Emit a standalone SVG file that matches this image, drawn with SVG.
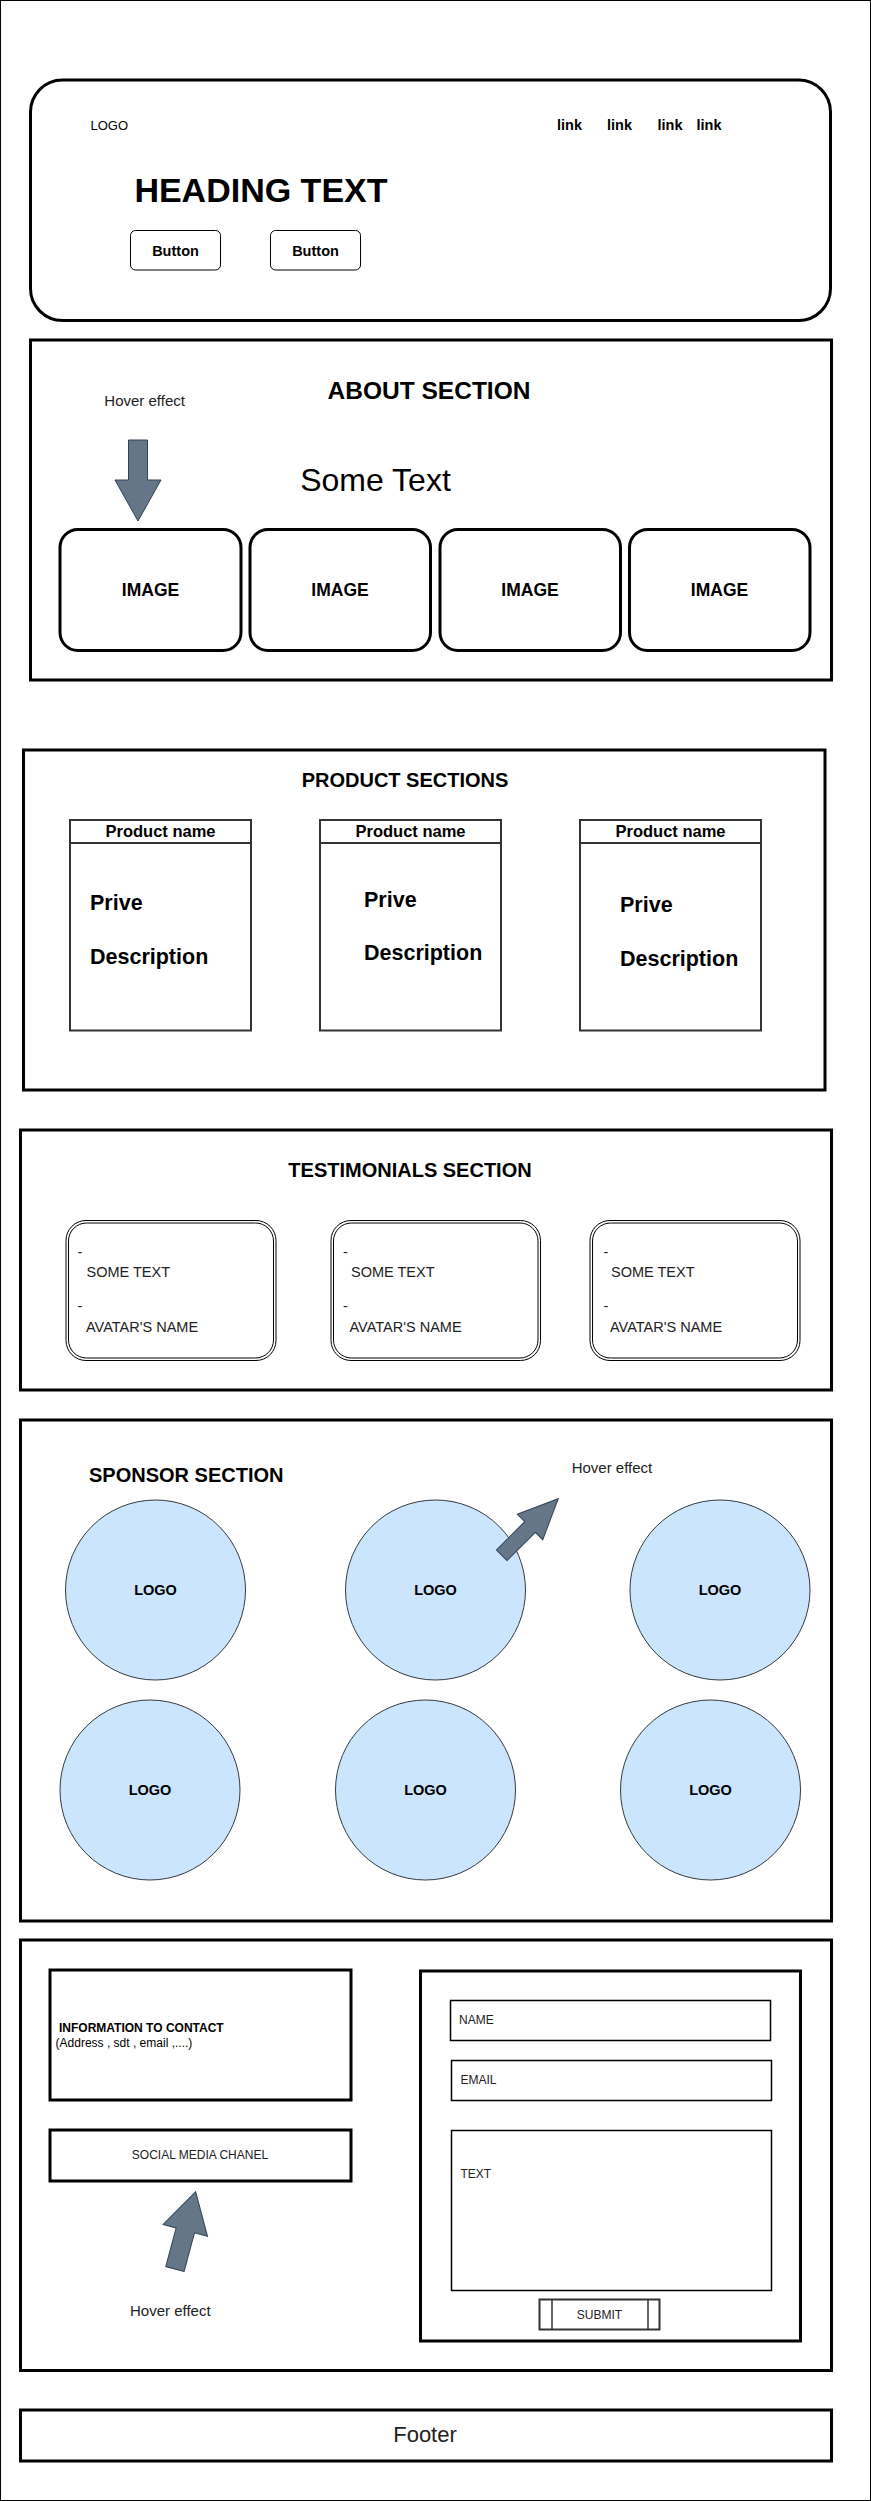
<svg xmlns="http://www.w3.org/2000/svg" width="871" height="2501" viewBox="0 0 871 2501">
<style>
text{font-family:"Liberation Sans",Arial,sans-serif;fill:#000}
.b{font-weight:bold}
.sec{fill:#fff;stroke:#000;stroke-width:3}
.img{fill:#fff;stroke:#000;stroke-width:3}
.prod{fill:#fff;stroke:#333;stroke-width:2}
.tst{fill:none;stroke:#000;stroke-width:1}
.logo{fill:#cce5ff;stroke:#36393d;stroke-width:1}
.arr{fill:#647687;stroke:#314354;stroke-width:1}
.inp{fill:#fff;stroke:#000;stroke-width:1.5}
.t{fill:#222}
.c{text-anchor:middle}
</style>
<rect x="0.5" y="0.5" width="870" height="2500" fill="#fff" stroke="#000" stroke-width="1"/>

<g id="header">
<rect class="sec" x="30.5" y="80" width="800" height="240.5" rx="32" ry="32"/>
<text x="90.5" y="130" font-size="13">LOGO</text>
<text class="b" x="557" y="130" font-size="14.5">link</text>
<text class="b" x="607" y="130" font-size="14.5" fill="#222">link</text>
<text class="b" x="657.5" y="130" font-size="14.5" fill="#222">link</text>
<text class="b" x="696.5" y="130" font-size="14.5" fill="#222">link</text>
<text class="b" x="134.4" y="201.5" font-size="34">HEADING TEXT</text>
<rect x="130.5" y="230.5" width="90" height="39.5" rx="5" fill="#fff" stroke="#000" stroke-width="1"/>
<text class="b c" x="175.5" y="255.5" font-size="14.5">Button</text>
<rect x="270.5" y="230.5" width="90" height="39.5" rx="5" fill="#fff" stroke="#000" stroke-width="1"/>
<text class="b c" x="315.5" y="255.5" font-size="14.5">Button</text>
</g>

<g id="about">
<rect class="sec" x="30.5" y="340" width="801" height="340"/>
<text class="b c" x="429" y="399" font-size="24.5">ABOUT SECTION</text>
<text class="t" x="104.3" y="406" font-size="15">Hover effect</text>
<text class="c" x="375.5" y="491" font-size="32">Some Text</text>
<g id="img1"><rect class="img" x="60" y="529.5" width="181" height="121" rx="18"/><text class="b c" x="150.5" y="596" font-size="17.5">IMAGE</text></g>
<g id="img2"><rect class="img" x="250" y="529.5" width="180.5" height="121" rx="18"/><text class="b c" x="340" y="596" font-size="17.5">IMAGE</text></g>
<g id="img3"><rect class="img" x="440" y="529.5" width="180.5" height="121" rx="18"/><text class="b c" x="530" y="596" font-size="17.5">IMAGE</text></g>
<g id="img4"><rect class="img" x="629.5" y="529.5" width="180.5" height="121" rx="18"/><text class="b c" x="719.5" y="596" font-size="17.5">IMAGE</text></g>
</g>

<g id="products">
<rect class="sec" x="23.5" y="750" width="801.5" height="340"/>
<text class="b c" x="405" y="787" font-size="20">PRODUCT SECTIONS</text>
<g id="prod1">
<rect class="prod" x="70" y="820" width="181" height="210.5"/>
<line class="prod" x1="70" y1="843" x2="251" y2="843"/>
<text class="b c" x="160.5" y="837" font-size="16.5">Product name</text>
<text class="b" x="90" y="910" font-size="21.5">Prive</text>
<text class="b" x="90" y="963.5" font-size="21.5">Description</text>
</g>
<g id="prod2">
<rect class="prod" x="320" y="820" width="181" height="210.5"/>
<line class="prod" x1="320" y1="843" x2="501" y2="843"/>
<text class="b c" x="410.5" y="837" font-size="16.5">Product name</text>
<text class="b" x="364" y="906.5" font-size="21.5">Prive</text>
<text class="b" x="364" y="960" font-size="21.5">Description</text>
</g>
<g id="prod3">
<rect class="prod" x="580" y="820" width="181" height="210.5"/>
<line class="prod" x1="580" y1="843" x2="761" y2="843"/>
<text class="b c" x="670.5" y="837" font-size="16.5">Product name</text>
<text class="b" x="620" y="911.5" font-size="21.5">Prive</text>
<text class="b" x="620" y="965.5" font-size="21.5">Description</text>
</g>
</g>

<g id="testimonials">
<rect class="sec" x="20.5" y="1130" width="811" height="260"/>
<text class="b c" x="410" y="1177" font-size="20">TESTIMONIALS SECTION</text>
<g id="t1">
<rect class="tst" x="66" y="1220.5" width="210" height="140" rx="20"/>
<rect class="tst" x="68.5" y="1223" width="205" height="135" rx="18"/>
<text class="t" x="77.5" y="1256.5" font-size="14.5">-</text>
<text class="t" x="86.5" y="1277" font-size="14.5">SOME TEXT</text>
<text class="t" x="77.5" y="1310.5" font-size="14.5">-</text>
<text class="t" x="86" y="1331.5" font-size="14.5">AVATAR'S NAME</text>
</g>
<g id="t2">
<rect class="tst" x="331" y="1220.5" width="209.5" height="140" rx="20"/>
<rect class="tst" x="333.5" y="1223" width="204.5" height="135" rx="18"/>
<text class="t" x="343" y="1256.5" font-size="14.5">-</text>
<text class="t" x="351" y="1277" font-size="14.5">SOME TEXT</text>
<text class="t" x="343" y="1310.5" font-size="14.5">-</text>
<text class="t" x="349.5" y="1331.5" font-size="14.5">AVATAR'S NAME</text>
</g>
<g id="t3">
<rect class="tst" x="590" y="1220.5" width="210" height="140" rx="20"/>
<rect class="tst" x="592.5" y="1223" width="205" height="135" rx="18"/>
<text class="t" x="603.5" y="1256.5" font-size="14.5">-</text>
<text class="t" x="611" y="1277" font-size="14.5">SOME TEXT</text>
<text class="t" x="603.5" y="1310.5" font-size="14.5">-</text>
<text class="t" x="610" y="1331.5" font-size="14.5">AVATAR'S NAME</text>
</g>
</g>

<g id="sponsors">
<rect class="sec" x="20.5" y="1420" width="811" height="501"/>
<text class="b" x="89" y="1482" font-size="20">SPONSOR SECTION</text>
<text class="t" x="571.7" y="1472.5" font-size="15">Hover effect</text>
<g id="s1"><circle class="logo" cx="155.5" cy="1590" r="90"/><text class="b c" x="155.5" y="1595" font-size="14.5">LOGO</text></g>
<g id="s2"><circle class="logo" cx="435.5" cy="1590" r="90"/><text class="b c" x="435.5" y="1595" font-size="14.5">LOGO</text></g>
<g id="s3"><circle class="logo" cx="720" cy="1590" r="90"/><text class="b c" x="720" y="1595" font-size="14.5">LOGO</text></g>
<g id="s4"><circle class="logo" cx="150" cy="1790" r="90"/><text class="b c" x="150" y="1795" font-size="14.5">LOGO</text></g>
<g id="s5"><circle class="logo" cx="425.5" cy="1790" r="90"/><text class="b c" x="425.5" y="1795" font-size="14.5">LOGO</text></g>
<g id="s6"><circle class="logo" cx="710.5" cy="1790" r="90"/><text class="b c" x="710.5" y="1795" font-size="14.5">LOGO</text></g>
</g>

<g id="contact">
<rect class="sec" x="20.5" y="1940" width="811" height="430.5"/>
<g id="info">
<rect class="sec" x="50" y="1970" width="301" height="130"/>
<text class="b" x="59" y="2032" font-size="12">INFORMATION TO CONTACT</text>
<text x="55.6" y="2046.5" font-size="12">(Address , sdt , email ,....)</text>
</g>
<g id="social">
<rect class="sec" x="50" y="2130" width="301" height="51"/>
<text class="t c" x="200" y="2158.5" font-size="12">SOCIAL MEDIA CHANEL</text>
</g>
<text class="t" x="130" y="2316" font-size="15">Hover effect</text>
<g id="form">
<rect class="sec" x="420.5" y="1971" width="380" height="370"/>
<rect class="inp" x="450.5" y="2000.5" width="320" height="40"/>
<text class="t" x="459" y="2024" font-size="12">NAME</text>
<rect class="inp" x="451.5" y="2060.5" width="320" height="40"/>
<text class="t" x="460.5" y="2084" font-size="12">EMAIL</text>
<rect class="inp" x="451.5" y="2130.5" width="320" height="160"/>
<text class="t" x="460.5" y="2177.5" font-size="12">TEXT</text>
<g id="submit">
<rect x="539.5" y="2299.5" width="120" height="30" fill="#fff" stroke="#333" stroke-width="2"/>
<line x1="552" y1="2299.5" x2="552" y2="2329.5" stroke="#333" stroke-width="1.5"/>
<line x1="648" y1="2299.5" x2="648" y2="2329.5" stroke="#333" stroke-width="1.5"/>
<text class="t c" x="599.5" y="2318.5" font-size="12">SUBMIT</text>
</g>
</g>
</g>

<g id="footer">
<rect class="sec" x="20.5" y="2410" width="811" height="51"/>
<text class="t c" x="425" y="2441.5" font-size="22">Footer</text>
</g>

<g id="connectors">
<polygon class="arr" points="128.5,440 147.5,440 147.5,480 161,480 138,521 115,480 128.5,480"/>
<polygon class="arr" transform="translate(530,1527) rotate(225)" points="-7.5,-40 7.5,-40 7.5,0 18,0 0,40 -18,0 -7.5,0"/>
<polygon class="arr" transform="translate(185.3,2230.4) rotate(195)" points="-9.5,-40 9.5,-40 9.5,0 23,0 0,40 -23,0 -9.5,0"/>
</g>
</svg>
